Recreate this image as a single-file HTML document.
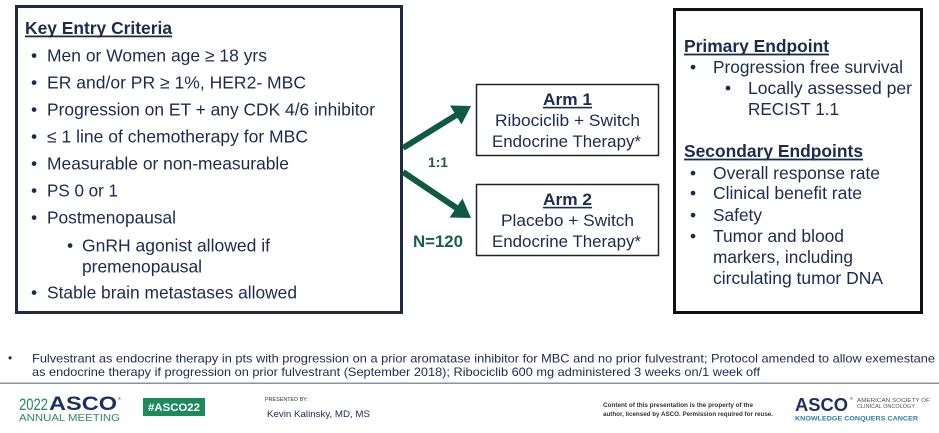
<!DOCTYPE html>
<html><head><meta charset="utf-8"><style>
html,body{margin:0;padding:0;background:#fff;}
svg{display:block;}
text{font-family:"Liberation Sans",Arial,sans-serif;}
</style></head><body>
<svg width="939" height="433" viewBox="0 0 939 433" xmlns="http://www.w3.org/2000/svg">
<rect x="0" y="0" width="939" height="433" fill="#fff"/>
<!-- Left box -->
<rect x="16.5" y="6.5" width="385" height="306" fill="none" stroke="#1f2a44" stroke-width="3"/>
<g fill="#1b2b4f" font-size="17.5">
<text x="25" y="34" font-weight="bold" textLength="147" lengthAdjust="spacingAndGlyphs">Key Entry Criteria</text>
<rect x="25" y="35.5" width="147" height="1.8"/>
<text x="31" y="61.3">•</text><text x="47" y="61.3" textLength="220" lengthAdjust="spacingAndGlyphs">Men or Women age ≥ 18 yrs</text>
<text x="31" y="88.3">•</text><text x="47" y="88.3" textLength="259" lengthAdjust="spacingAndGlyphs">ER and/or PR ≥ 1%, HER2- MBC</text>
<text x="31" y="115.3">•</text><text x="47" y="115.3" textLength="328" lengthAdjust="spacingAndGlyphs">Progression on ET + any CDK 4/6 inhibitor</text>
<text x="31" y="142.3">•</text><text x="47" y="142.3" textLength="261" lengthAdjust="spacingAndGlyphs">≤ 1 line of chemotherapy for MBC</text>
<text x="31" y="169.3">•</text><text x="47" y="169.3" textLength="242" lengthAdjust="spacingAndGlyphs">Measurable or non-measurable</text>
<text x="31" y="196.3">•</text><text x="47" y="196.3" textLength="71" lengthAdjust="spacingAndGlyphs">PS 0 or 1</text>
<text x="31" y="223.3">•</text><text x="47" y="223.3" textLength="129" lengthAdjust="spacingAndGlyphs">Postmenopausal</text>
<text x="67" y="251.3">•</text><text x="82" y="251.3" textLength="188" lengthAdjust="spacingAndGlyphs">GnRH agonist allowed if</text>
<text x="82" y="272.3" textLength="120" lengthAdjust="spacingAndGlyphs">premenopausal</text>
<text x="31" y="298.3">•</text><text x="47" y="298.3" textLength="250" lengthAdjust="spacingAndGlyphs">Stable brain metastases allowed</text>
</g>
<!-- Arrows -->
<g fill="#0f5b3f" stroke="#0f5b3f">
<line x1="403" y1="148" x2="458" y2="114" stroke-width="6"/>
<polygon points="471,106 461.5,124.5 450,105.5" stroke="none"/>
<line x1="403" y1="172" x2="458" y2="209" stroke-width="6"/>
<polygon points="471,218 449.5,217.5 462.5,198.5" stroke="none"/>
</g>
<g fill="#1a5e44" font-weight="bold">
<text x="428" y="167" font-size="14" textLength="20" lengthAdjust="spacingAndGlyphs">1:1</text>
<text x="413" y="247" font-size="16.8" textLength="50" lengthAdjust="spacingAndGlyphs">N=120</text>
</g>
<!-- Arm boxes -->
<rect x="476.5" y="84.5" width="182" height="71" fill="none" stroke="#222" stroke-width="1.5"/>
<rect x="476.5" y="184.5" width="182" height="71" fill="none" stroke="#222" stroke-width="1.5"/>
<g fill="#1b2b4f" font-size="17">
<text x="543" y="105" font-weight="bold" textLength="49" lengthAdjust="spacingAndGlyphs">Arm 1</text>
<rect x="543" y="106.8" width="49" height="1.6"/>
<text x="495" y="126" textLength="145" lengthAdjust="spacingAndGlyphs">Ribociclib + Switch</text>
<text x="492" y="147" textLength="149" lengthAdjust="spacingAndGlyphs">Endocrine Therapy*</text>
<text x="543" y="205" font-weight="bold" textLength="49" lengthAdjust="spacingAndGlyphs">Arm 2</text>
<rect x="543" y="206.8" width="49" height="1.6"/>
<text x="501" y="226" textLength="133" lengthAdjust="spacingAndGlyphs">Placebo + Switch</text>
<text x="492" y="247" textLength="149" lengthAdjust="spacingAndGlyphs">Endocrine Therapy*</text>
</g>
<!-- Right box -->
<rect x="674.5" y="9.5" width="247" height="303" fill="none" stroke="#111" stroke-width="3"/>
<g fill="#1b2b4f" font-size="17.3">
<text x="684" y="52" font-weight="bold" textLength="145" lengthAdjust="spacingAndGlyphs">Primary Endpoint</text>
<rect x="684" y="53.6" width="145" height="1.8"/>
<text x="690" y="73">•</text><text x="713" y="73" textLength="190" lengthAdjust="spacingAndGlyphs">Progression free survival</text>
<text x="725" y="94">•</text><text x="748" y="94" textLength="164" lengthAdjust="spacingAndGlyphs">Locally assessed per</text>
<text x="748" y="115" textLength="91" lengthAdjust="spacingAndGlyphs">RECIST 1.1</text>
<text x="684" y="157" font-weight="bold" textLength="179" lengthAdjust="spacingAndGlyphs">Secondary Endpoints</text>
<rect x="684" y="158.6" width="179" height="1.8"/>
<text x="690" y="179">•</text><text x="713" y="179" textLength="167" lengthAdjust="spacingAndGlyphs">Overall response rate</text>
<text x="690" y="199">•</text><text x="713" y="199" textLength="149" lengthAdjust="spacingAndGlyphs">Clinical benefit rate</text>
<text x="690" y="221">•</text><text x="713" y="221" textLength="49" lengthAdjust="spacingAndGlyphs">Safety</text>
<text x="690" y="242">•</text><text x="713" y="242" textLength="131" lengthAdjust="spacingAndGlyphs">Tumor and blood</text>
<text x="713" y="263" textLength="140" lengthAdjust="spacingAndGlyphs">markers, including</text>
<text x="713" y="284" textLength="170" lengthAdjust="spacingAndGlyphs">circulating tumor DNA</text>
</g>
<!-- Footnote -->
<g fill="#1b2b4f" font-size="12">
<text x="8" y="362">•</text>
<text x="32" y="362.5" textLength="903" lengthAdjust="spacingAndGlyphs">Fulvestrant as endocrine therapy in pts with progression on a prior aromatase inhibitor for MBC and no prior fulvestrant; Protocol amended to allow exemestane</text>
<text x="32" y="376" textLength="728" lengthAdjust="spacingAndGlyphs">as endocrine therapy if progression on prior fulvestrant (September 2018); Ribociclib 600 mg administered 3 weeks on/1 week off</text>
</g>
<rect x="0" y="382.5" width="939" height="1.5" fill="#8a93a3"/>
<!-- Footer left -->
<text x="19" y="410" font-size="17" fill="#1f8a5e" textLength="29" lengthAdjust="spacingAndGlyphs">2022</text>
<text x="49" y="410" font-size="19.5" font-weight="bold" fill="#1d2f5e" textLength="68" lengthAdjust="spacingAndGlyphs">ASCO</text>
<text x="118" y="400" font-size="4" fill="#1d2f5e">®</text>
<text x="19" y="421" font-size="10" fill="#2e8b62" textLength="101" lengthAdjust="spacingAndGlyphs">ANNUAL MEETING</text>
<rect x="143" y="398" width="62" height="18" fill="#1e8a5c"/>
<text x="148" y="411" font-size="11" font-weight="bold" fill="#fff" textLength="52" lengthAdjust="spacingAndGlyphs">#ASCO22</text>
<text x="265" y="401" font-size="5" fill="#333" textLength="43" lengthAdjust="spacingAndGlyphs">PRESENTED BY:</text>
<text x="267" y="417" font-size="9.5" fill="#1b2b4f" textLength="103" lengthAdjust="spacingAndGlyphs">Kevin Kalinsky, MD, MS</text>
<!-- Footer right -->
<g fill="#333" font-size="6.5" font-weight="bold">
<text x="603" y="407" textLength="150" lengthAdjust="spacingAndGlyphs">Content of this presentation is the property of the</text>
<text x="603" y="416" textLength="170" lengthAdjust="spacingAndGlyphs">author, licensed by ASCO. Permission required for reuse.</text>
</g>
<text x="795" y="411" font-size="18.5" font-weight="bold" fill="#1d2f5e" textLength="53" lengthAdjust="spacingAndGlyphs">ASCO</text>
<text x="850" y="400" font-size="4" fill="#1d2f5e">®</text>
<text x="857" y="402" font-size="5.5" fill="#555" textLength="73" lengthAdjust="spacingAndGlyphs">AMERICAN SOCIETY OF</text>
<text x="857" y="408" font-size="5.5" fill="#555" textLength="58" lengthAdjust="spacingAndGlyphs">CLINICAL ONCOLOGY</text>
<text x="795" y="420.5" font-size="6.8" font-weight="bold" fill="#2a7fa0" textLength="123" lengthAdjust="spacingAndGlyphs">KNOWLEDGE CONQUERS CANCER</text>
</svg>
</body></html>
